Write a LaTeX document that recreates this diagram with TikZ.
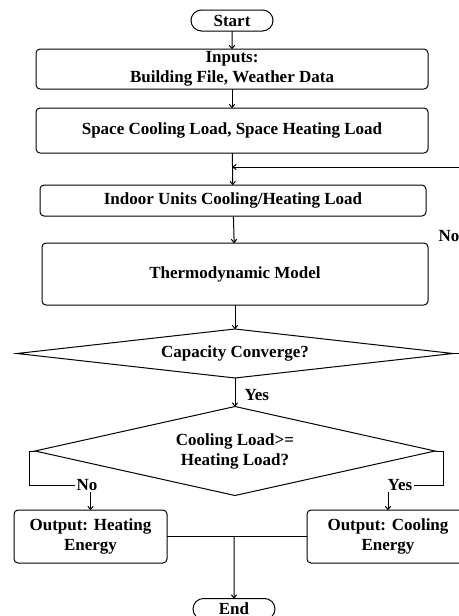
\documentclass[tikz,border=0pt]{standalone}
\usepackage{fontspec}
\setmainfont{Liberation Serif}
\usetikzlibrary{shapes.geometric,shapes.misc,arrows.meta}
\begin{document}
\begin{tikzpicture}[x=1pt,y=-1pt,line width=1pt,
    font=\bfseries\fontsize{17}{20}\selectfont,
    >={To[length=4pt,width=6pt]},
    box/.style={draw,rounded corners=4pt,inner sep=0pt,outer sep=0pt,align=center},
    term/.style={draw,rounded rectangle,minimum width=82pt,minimum height=21pt,inner sep=0pt,outer sep=0pt},
    decide/.style={draw,diamond,inner sep=0pt,outer sep=0pt,align=center},
    lbl/.style={inner sep=1pt}]
                \useasboundingbox (0,0) rectangle (458,616);
                \node[term] (start) at (232,20.5) {Start};
                \node[box,minimum width=392pt,minimum height=40pt] (inputs) at (232,69) {Inputs:\\Building File, Weather Data};
                \node[box,minimum width=392pt,minimum height=45pt] (space) at (232,130.5) {Space Cooling Load, Space Heating Load};
                \node[box,minimum width=386pt,minimum height=31pt] (indoor) at (233,200.5) {Indoor Units Cooling/Heating Load};
                \node[box,minimum width=386pt,minimum height=62pt] (thermo) at (235,274) {Thermodynamic Model};
                \node[decide,aspect=8.9,minimum width=436pt,minimum height=49pt] (conv) at (235,353.5) {Capacity Converge?};
                \node[decide,aspect=4.49,minimum width=400pt,minimum height=89pt] (cmp) at (235,451) {Cooling Load>=\\Heating Load?};
                \node[box,minimum width=153pt,minimum height=53pt] (heat) at (90.5,536.5) {Output: Heating\\Energy};
                \node[box,minimum width=162pt,minimum height=53pt] (cool) at (388,536.5) {Output: Cooling\\Energy};
                \node[term] (end) at (234,609) {End};
                \node[lbl,anchor=west] (nolbl) at (437,236) {No};
                \node[lbl] (nocmp) at (87,485) {No};
                \node[lbl] (yescmp) at (400,485) {Yes};
                \coordinate (merge) at (232.5,167);
                \coordinate (meet) at (heat.east -| end.north);
                \draw[->] (start)--(inputs);
                \draw[->] (inputs)--(space);
                \draw[->] (space)--(indoor);
                \draw[->] (indoor)--(thermo);
                \draw[->] (thermo)--(conv);
                \draw[->] (conv)--node[lbl,right,pos=0.6,xshift=8pt]{Yes}(cmp);
                \draw[->] (conv.east)--++(20,0)|-(merge);
                \draw (cmp.west)--++(-6,0)|-(nocmp.west);
                \draw[->] (heat.north |- nocmp.south)--(heat.north);
                \draw (cmp.east)--++(8,0)|-(yescmp.east);
                \draw[->] (cool.north |- yescmp.south)--(cool.north);
                \draw (heat.east)--(cool.west);
                \draw[->] (meet)--(end);
\end{tikzpicture}
\end{document}
